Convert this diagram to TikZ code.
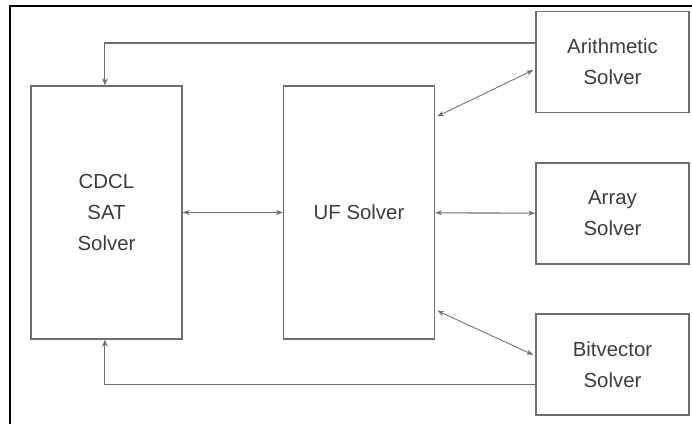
\documentclass[tikz,border=0pt]{standalone}
\usepackage{fontspec}
\setmainfont{Liberation Sans}
\usepackage{xcolor}
\usepackage{tikz}
\usetikzlibrary{arrows,arrows.meta,positioning,calc}

\definecolor{boxgray}{HTML}{6E6E6E}
\definecolor{textgray}{HTML}{3C3C3C}

\begin{document}
\begin{tikzpicture}[
    x=0.025cm, y=-0.025cm,
    solver/.style={rectangle, draw=boxgray, line width=0.9pt, align=center,
        text=textgray, font=\fontsize{14.5}{22}\selectfont, inner sep=0pt},
    bigsolver/.style={solver, minimum width=3.775cm, minimum height=6.325cm},
    smallsolver/.style={solver, minimum width=3.825cm, minimum height=2.53cm},
    arrow/.style={-{Stealth[length=5pt,width=4pt]}, draw=boxgray, line width=0.8pt},
    biarrow/.style={{Stealth[length=5pt,width=3.5pt]}-{Stealth[length=5pt,width=3.5pt]}, draw=boxgray, line width=0.6pt}
]
\useasboundingbox (0,0) rectangle (692,424);
% frame (cut off at right and bottom)
\draw[black, line width=1.3pt] (10,424) -- (10,6) -- (692,6);

\node[bigsolver] (cdcl) at (106.5,212.5) {CDCL\\SAT\\Solver};
\node[bigsolver] (uf) at (359,212.5) {UF Solver};
\node[smallsolver] (arith) at (612.5,62) {Arithmetic\\Solver};
\node[smallsolver] (array) at (612.5,213.5) {Array\\Solver};
\node[smallsolver] (bitvec) at (612.5,364.5) {Bitvector\\Solver};

\draw[arrow] ([yshift=0.475cm]arith.west) -| ([xshift=-0.04cm]cdcl.north);
\draw[arrow] ([yshift=-0.51cm]bitvec.west) -| ([xshift=-0.04cm]cdcl.south);
\draw[biarrow, line width=0.8pt] (cdcl) -- (uf);
\draw[biarrow, line width=0.8pt] (uf) -- (array);
\draw[biarrow] ([yshift=-0.775cm, xshift=0.05cm]uf.north east) -- ([yshift=-0.2cm, xshift=-0.05cm]arith.west);
\draw[biarrow] ([yshift=0.725cm, xshift=0.05cm]uf.south east) -- ([yshift=0.24cm, xshift=-0.05cm]bitvec.west);
\end{tikzpicture}
\end{document}
